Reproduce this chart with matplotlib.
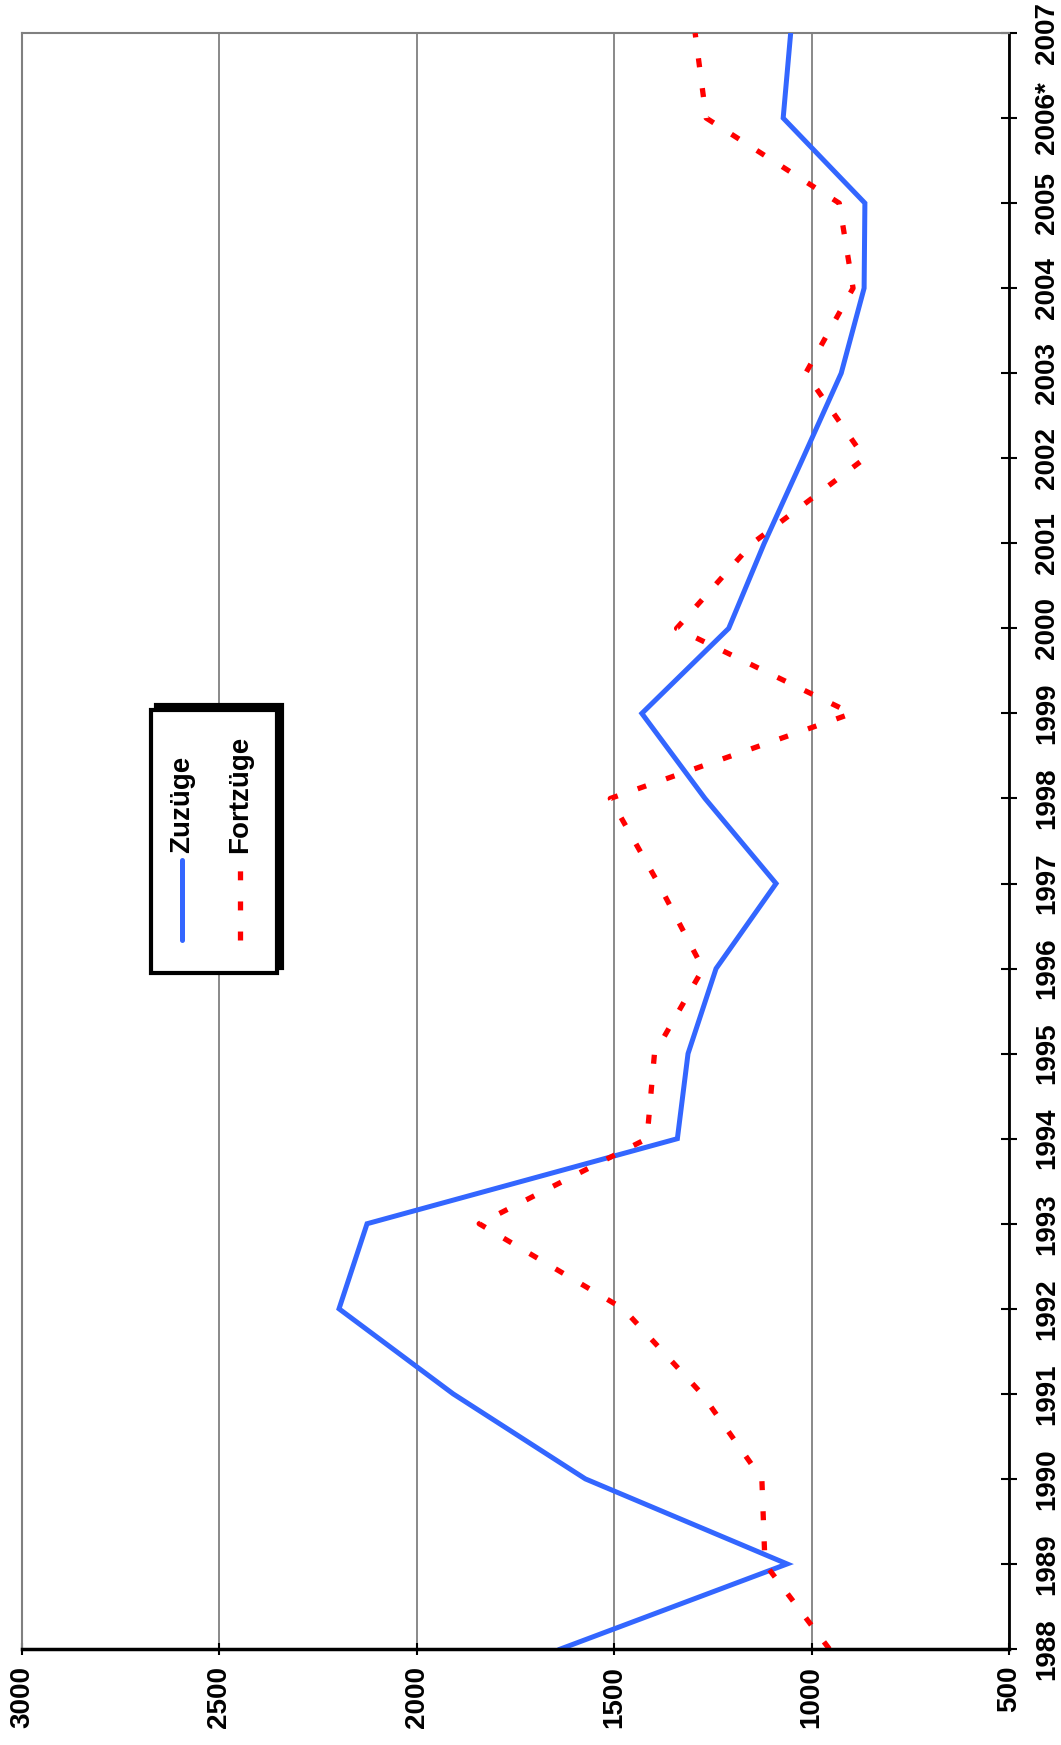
import matplotlib
matplotlib.use('Agg')
import matplotlib.pyplot as plt
from matplotlib.lines import Line2D
from matplotlib.patches import Rectangle

# ---- data ----
years = ['1988', '1989', '1990', '1991', '1992', '1993', '1994', '1995', '1996', '1997',
         '1998', '1999', '2000', '2001', '2002', '2003', '2004', '2005', '2006*', '2007']
zuzuege = [1636, 1062, 1573, 1908, 2197, 2126, 1340, 1313, 1242, 1090,
           1270, 1430, 1210, 1120, 1022, 925, 867, 865, 1072, 1053]
fortzuege = [955, 1118, 1126, 1278, 1477, 1842, 1417, 1398, 1275, 1388,
             1510, 898, 1342, 1150, 865, 1015, 895, 930, 1267, 1295]
value_ticks = [3000, 2500, 2000, 1500, 1000, 500]
series_names = ['Zuzüge', 'Fortzüge']

BLUE = '#3366FF'
RED = '#FF0000'
FONT = 'Liberation Sans'
DASH = (1.7, 4.0)

W, H = 1061, 1745
fig = plt.figure(figsize=(W / 100, H / 100), dpi=100)

def fx(x):
    return x / W

def fy(y):
    return 1 - y / H

left, right, top, bottom = 22, 1009, 33, 1649
ax = fig.add_axes([fx(left), fy(bottom), (right - left) / W, (bottom - top) / H])

pos = list(range(len(years)))
ax.plot(zuzuege, pos, color=BLUE, lw=3.6, solid_joinstyle='miter', zorder=3)
ax.plot(fortzuege, pos, color=RED, lw=3.8, dashes=DASH, dash_capstyle='butt', zorder=3)

ax.set_xlim(3000, 500)
ax.set_ylim(0, len(years) - 1)

ax.set_xticks(value_ticks)
ax.set_xticklabels([str(v) for v in value_ticks], rotation=90, fontsize=20,
                   fontweight='bold', family=FONT)
ax.yaxis.tick_right()
ax.set_yticks(pos)
ax.set_yticklabels(years, rotation=90, va='center', fontsize=20,
                   fontweight='bold', family=FONT)

ax.tick_params(axis='x', direction='inout', length=8, width=1.5, pad=8, colors='black')
ax.tick_params(axis='y', direction='inout', length=12, width=1.5, pad=12, colors='black')

ax.grid(axis='x', color='#808080', lw=1.3, zorder=1)
ax.grid(axis='y', visible=False)

for s in ['left', 'top']:
    ax.spines[s].set_color('#808080')
    ax.spines[s].set_linewidth(1.5)
ax.spines['right'].set_color('black')
ax.spines['right'].set_linewidth(2)
ax.spines['bottom'].set_color('black')
ax.spines['bottom'].set_linewidth(2.5)
ax.spines['bottom'].set_zorder(4)

# ---- legend (rotated, drawn manually) ----
bx0, bx1, by0, by1 = 151, 277, 710, 973
shadow = Rectangle((fx(bx0 + 5), fy(by1 - 5)), (bx1 - bx0) / W, (by1 - by0) / H,
                   transform=fig.transFigure, facecolor='black', edgecolor='black', lw=3)
fig.add_artist(shadow)
box = Rectangle((fx(bx0), fy(by1)), (bx1 - bx0) / W, (by1 - by0) / H,
                transform=fig.transFigure, facecolor='white', edgecolor='black', lw=3)
fig.add_artist(box)

cols = [(182, BLUE, None), (240, RED, DASH)]
for (cx, col, dash), name in zip(cols, series_names):
    if dash is None:
        ln = Line2D([fx(cx), fx(cx)], [fy(940), fy(860)], transform=fig.transFigure,
                    color=col, lw=3.6, solid_capstyle='round')
    else:
        ln = Line2D([fx(cx), fx(cx)], [fy(940), fy(868)], transform=fig.transFigure,
                    color=col, lw=3.8, dashes=dash, dash_capstyle='butt')
    fig.add_artist(ln)
    fig.text(fx(cx), fy(853), name, rotation=90, ha='center', va='bottom',
             fontsize=20, fontweight='bold', family=FONT)

fig.savefig('out.png', dpi=100)
